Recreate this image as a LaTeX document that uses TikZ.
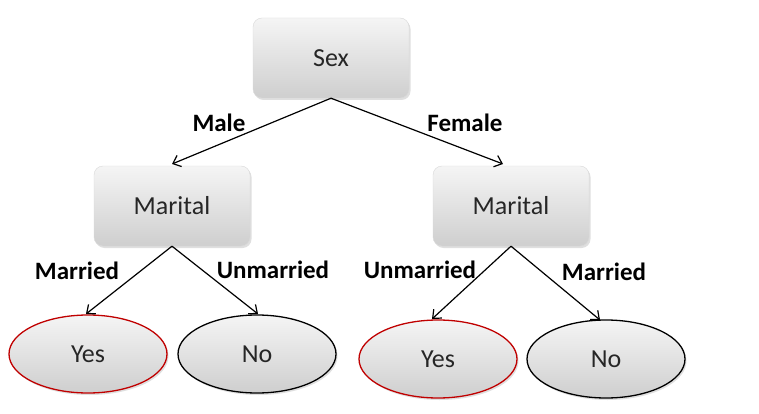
\documentclass[tikz,border=0pt]{standalone}
\usepackage{fontspec}
\setmainfont{Carlito}
\usetikzlibrary{shadows,shapes.geometric,arrows.meta}
\begin{document}
\begin{tikzpicture}[x=1pt,y=-1pt,
  boxnode/.style={rounded corners=9pt,minimum width=156pt,minimum height=80pt,
    top color=gray!8,bottom color=gray!38,draw=gray!30,line width=0.4pt,
    drop shadow={opacity=0.25,shadow xshift=1.5pt,shadow yshift=-2pt},
    font=\fontsize{26}{30}\selectfont,text=black!85},
  leaf/.style={ellipse,minimum width=158pt,minimum height=78pt,
    top color=gray!8,bottom color=gray!38,line width=1.3pt,
    drop shadow={opacity=0.25,shadow xshift=1.5pt,shadow yshift=-2pt},
    font=\fontsize{26}{30}\selectfont,text=black!85},
  redleaf/.style={leaf,draw={rgb,255:red,192;green,0;blue,0}},
  blackleaf/.style={leaf,draw=black},
  edgelab/.style={font=\bfseries\fontsize{25}{28}\selectfont},
  conn/.style={-{Straight Barb[length=7pt,width=12pt]},line width=1.2pt}]
\useasboundingbox (0,0) rectangle (759,414);
\fill[white] (0,0) rectangle (759,414);
\node[boxnode] (sex) at (331,58) {Sex};
\node[boxnode] (ml) at (172,206) {Marital};
\node[boxnode] (mr) at (511,206) {Marital};
\node[redleaf] (y1) at (88,354) {Yes};
\node[blackleaf] (n1) at (257,354) {No};
\node[redleaf] (y2) at (438,359) {Yes};
\node[blackleaf] (n2) at (606,359) {No};
\coordinate (t1) at (172,164);
\coordinate (t2) at (503,164);
\coordinate (t3) at (86,314);
\coordinate (t4) at (258,314);
\coordinate (t5) at (432,319);
\coordinate (t6) at (600,320);
\draw[conn] (sex.south) -- (t1);
\draw[conn] (sex.south) -- (t2);
\draw[conn] (ml.south) -- (t3);
\draw[conn] (ml.south) -- (t4);
\draw[conn] (mr.south) -- (t5);
\draw[conn] (mr.south) -- (t6);
\node[edgelab] (lmale) at (219,123) {Male};
\node[edgelab] (lfemale) at (465,123) {Female};
\node[edgelab] (lm1) at (77,271) {Married};
\node[edgelab] (lu1) at (273,270) {Unmarried};
\node[edgelab] (lu2) at (420,270) {Unmarried};
\node[edgelab] (lm2) at (604,272) {Married};
\end{tikzpicture}
\end{document}
